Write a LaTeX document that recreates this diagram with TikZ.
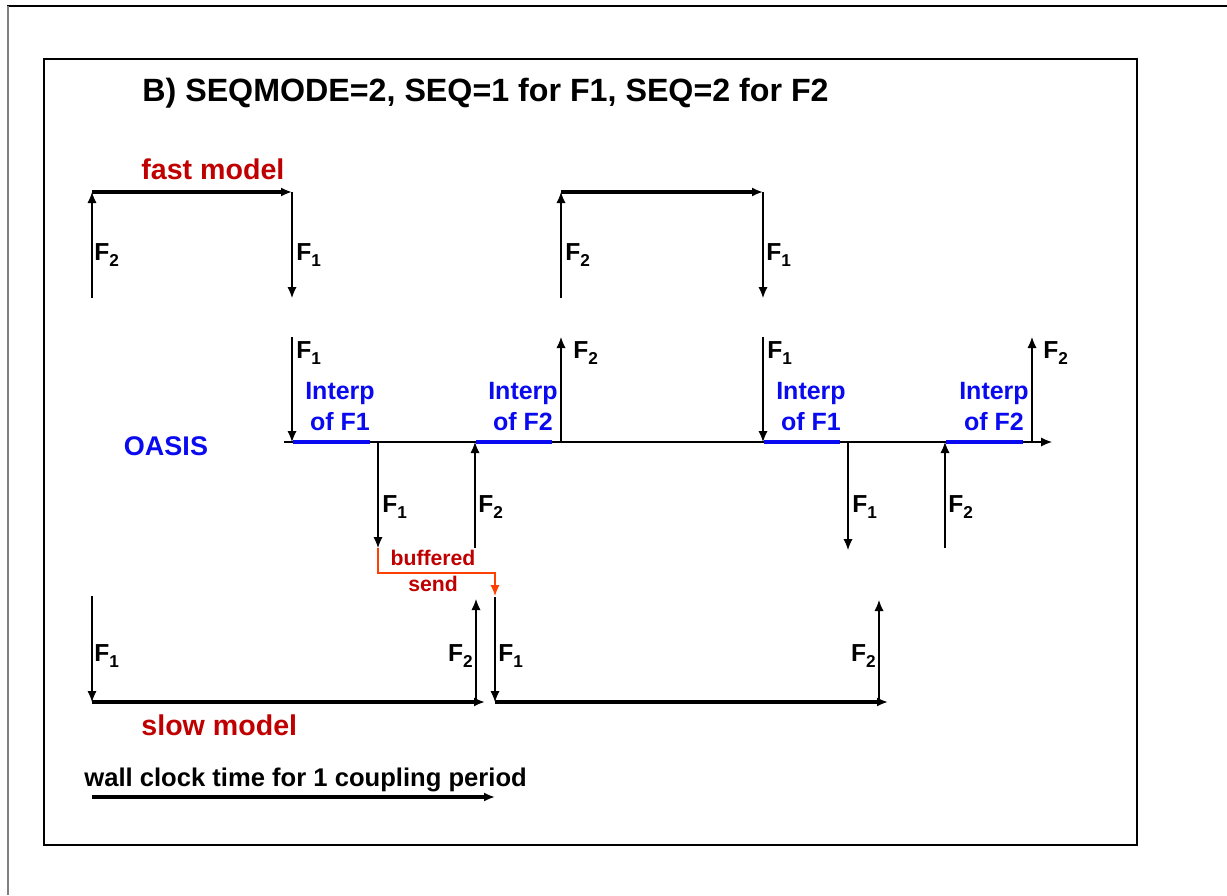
\documentclass[tikz,border=0pt]{standalone}
\usepackage{fontspec}
\setmainfont{Liberation Sans}
\usetikzlibrary{arrows.meta}
\definecolor{modelred}{RGB}{192,0,0}
\definecolor{oasisblue}{RGB}{10,10,240}
\definecolor{sendred}{RGB}{255,64,0}
\newcommand{\fsub}[2]{#1\raisebox{-3pt}{\fontsize{8.6}{8.6}\selectfont #2}}
\begin{document}
\begin{tikzpicture}[x=0.5pt,y=-0.5pt,>={Latex[length=5.5pt,width=4.6pt]},
  flow/.style={->,line width=0.55pt},
  timeline/.style={->,line width=1.6pt},
  interp/.style={oasisblue,line width=1.9pt},
  sendline/.style={->,sendred,line width=0.7pt},
  flabel/.style={anchor=base west,inner sep=0pt,font=\bfseries\fontsize{12.3}{12.3}\selectfont},
  flabelleft/.style={flabel,anchor=base east},
  ilabel/.style={anchor=south,align=center,inner sep=0pt,text=oasisblue,font=\bfseries\fontsize{12.5}{15.5}\selectfont},
  modellabel/.style={anchor=base west,inner sep=0pt,text=modelred,font=\bfseries\fontsize{14.3}{14.3}\selectfont}]
\useasboundingbox (0,0) rectangle (1227,895);

% frames
\draw[line width=0.6pt] (7,6) -- (1227,6);
\draw[gray,line width=0.8pt] (8,6) -- (8,895);
\draw[line width=1.2pt] (44,59) rectangle (1137,845);

\node[anchor=base west,inner sep=0pt,font=\bfseries\fontsize{16.1}{16.1}\selectfont] (title) at (142,101.5) {B) SEQMODE=2, SEQ=1 for F1, SEQ=2 for F2};

% fast model
\node[modellabel] (fast) at (141,179) {fast model};
\coordinate (fa0) at (92,298);
\coordinate (fa1) at (92,192);
\coordinate (fa2) at (292,192);
\coordinate (fa3) at (292,298);
\coordinate (fb0) at (561,298);
\coordinate (fb1) at (561,192);
\coordinate (fb2) at (763,192);
\coordinate (fb3) at (763,298);
\draw[flow] (fa0) -- (fa1);
\draw[timeline] (fa1) -- (fa2);
\draw[flow] (fa2) -- (fa3);
\draw[flow] (fb0) -- (fb1);
\draw[timeline] (fb1) -- (fb2);
\draw[flow] (fb2) -- (fb3);
\node[flabel] (fa2lab) at (94,260) {\fsub{F}{2}};
\node[flabel] (fa1lab) at (296,260) {\fsub{F}{1}};
\node[flabel] (fb2lab) at (565,260) {\fsub{F}{2}};
\node[flabel] (fb1lab) at (766,260) {\fsub{F}{1}};

% OASIS
\node[anchor=base,inner sep=0pt,text=oasisblue,font=\bfseries\fontsize{13.5}{13.5}\selectfont] (oasis) at (166,455) {OASIS};
\coordinate (ax0) at (284,442);
\coordinate (ax1) at (1052,442);
\draw[flow] (ax0) -- (ax1);
\draw[interp] (293,442) -- (370,442);
\draw[interp] (476,442) -- (552,442);
\draw[interp] (764,442) -- (840,442);
\draw[interp] (946,442) -- (1023,442);
\node[ilabel] (ia1) at (340,431) {Interp\\of F1};
\node[ilabel] (ia2) at (523,431) {Interp\\of F2};
\node[ilabel] (ib1) at (811,431) {Interp\\of F1};
\node[ilabel] (ib2) at (994,431) {Interp\\of F2};

\coordinate (oa1s) at (292,337);
\coordinate (oa1e) at (292,442);
\coordinate (oa2s) at (561,442);
\coordinate (oa2e) at (561,337);
\coordinate (ob1s) at (763,337);
\coordinate (ob1e) at (763,442);
\coordinate (ob2s) at (1032,442);
\coordinate (ob2e) at (1032,337);
\draw[flow] (oa1s) -- (oa1e);
\draw[flow] (oa2s) -- (oa2e);
\draw[flow] (ob1s) -- (ob1e);
\draw[flow] (ob2s) -- (ob2e);
\node[flabel] (oa1lab) at (296,358) {\fsub{F}{1}};
\node[flabel] (oa2lab) at (573,358) {\fsub{F}{2}};
\node[flabel] (ob1lab) at (767,358) {\fsub{F}{1}};
\node[flabel] (ob2lab) at (1043,358) {\fsub{F}{2}};

\coordinate (sa1s) at (378,442);
\coordinate (sa1e) at (378,548);
\coordinate (sa2s) at (475,548);
\coordinate (sa2e) at (475,442);
\coordinate (sb1s) at (848,442);
\coordinate (sb1e) at (848,550);
\coordinate (sb2s) at (945,548);
\coordinate (sb2e) at (945,442);
\draw[flow] (sa1s) -- (sa1e);
\draw[flow] (sa2s) -- (sa2e);
\draw[flow] (sb1s) -- (sb1e);
\draw[flow] (sb2s) -- (sb2e);
\node[flabel] (sa1lab) at (382,512) {\fsub{F}{1}};
\node[flabel] (sa2lab) at (478,512) {\fsub{F}{2}};
\node[flabel] (sb1lab) at (852,512) {\fsub{F}{1}};
\node[flabel] (sb2lab) at (948,512) {\fsub{F}{2}};

% buffered send
\coordinate (bend) at (495,573);
\coordinate (bsend) at (495,596);
\draw[sendline] (sa1e) |- (bend) -- (bsend);
\node[anchor=south,align=center,inner sep=0pt,text=modelred,font=\bfseries\fontsize{10.6}{13}\selectfont] (buffered) at (433,592) {buffered\\send};

% slow model
\coordinate (la0) at (92,596);
\coordinate (la1) at (92,702);
\coordinate (la2) at (485,702);
\coordinate (la3) at (476,702);
\coordinate (la4) at (476,599);
\coordinate (lb0) at (495,597);
\coordinate (lb1) at (495,702);
\coordinate (lb2) at (888,702);
\coordinate (lb3) at (879,702);
\coordinate (lb4) at (879,600);
\draw[flow] (la0) -- (la1);
\draw[timeline] (la1) -- (la2);
\draw[flow] (la3) -- (la4);
\draw[flow] (lb0) -- (lb1);
\draw[timeline] (lb1) -- (lb2);
\draw[flow] (lb3) -- (lb4);
\node[flabel] (la1lab) at (94,661) {\fsub{F}{1}};
\node[flabelleft] (la2lab) at (473,661) {\fsub{F}{2}};
\node[flabel] (lb1lab) at (498,661) {\fsub{F}{1}};
\node[flabelleft] (lb2lab) at (876,661) {\fsub{F}{2}};
\node[modellabel] (slow) at (141,735) {slow model};

% wall clock
\node[anchor=base west,inner sep=0pt,font=\bfseries\fontsize{12.8}{12.8}\selectfont] (wall) at (84,786) {wall clock time for 1 coupling period};
\coordinate (wc0) at (92,797);
\coordinate (wc1) at (495,797);
\draw[timeline] (wc0) -- (wc1);
\end{tikzpicture}
\end{document}
